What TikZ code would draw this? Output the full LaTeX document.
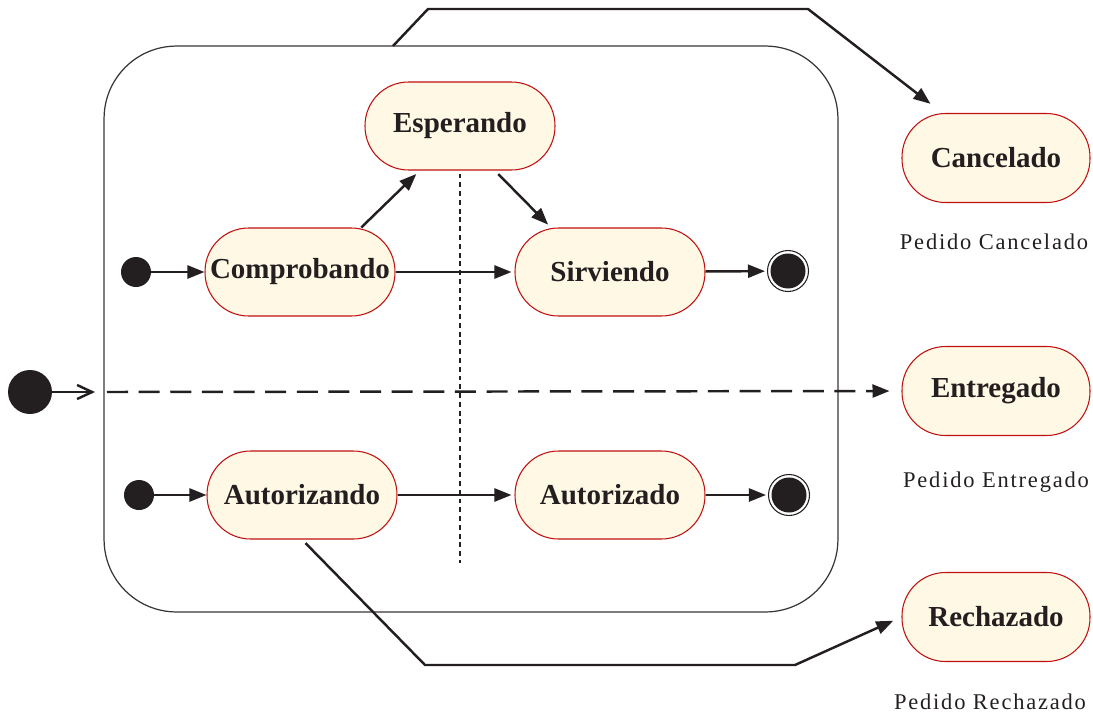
\documentclass[tikz,border=0pt]{standalone}
\usepackage{fontspec}
\setmainfont{Liberation Serif}
\newfontfamily\notefont[LetterSpace=8]{Liberation Serif}
\usepackage{xcolor}
\usepackage{tikz}
\usetikzlibrary{positioning,arrows.meta}
\definecolor{inkcolor}{RGB}{35,31,32}
\definecolor{statefill}{RGB}{254,248,228}
\definecolor{statedraw}{RGB}{192,16,16}
\tikzset{
    state/.style={rectangle, rounded corners=0.87cm, draw=statedraw, line width=0.6pt, fill=statefill, minimum width=3.8cm, minimum height=1.76cm, inner sep=0pt, text=inkcolor, font=\fontsize{16.5}{19}\selectfont\bfseries},
    end state/.style={state, minimum width=3.76cm, minimum height=1.78cm},
    composite/.style={rectangle, rounded corners=1.45cm, draw=inkcolor!90, line width=0.7pt, minimum width=14.68cm, minimum height=11.32cm, inner sep=0pt},
    initial dot/.style={circle, fill=inkcolor, minimum size=0.6cm, inner sep=0pt},
    big initial dot/.style={circle, fill=inkcolor, minimum size=0.88cm, inner sep=0pt},
    final dot/.style={circle, draw=inkcolor, line width=0.6pt, fill=white, minimum size=0.82cm, inner sep=0pt, path picture={\fill[inkcolor] (path picture bounding box.center) circle (0.35cm);}},
    transition/.style={-{Triangle[length=0.34cm, width=0.26cm]}, line width=1.4pt, draw=inkcolor},
    entry/.style={-{Straight Barb[length=0.3cm, width=0.28cm]}, line width=1.4pt, draw=inkcolor},
    fork line/.style={dash pattern=on 12pt off 6pt},
    region line/.style={line width=1.4pt, draw=inkcolor, dash pattern=on 2.8pt off 2.2pt},
    note/.style={anchor=base, text=inkcolor, font=\notefont\fontsize{12.8}{15}\selectfont}
}

\begin{document}
\begin{tikzpicture}[x=0.02cm, y=-0.02cm]
    \useasboundingbox (0,0) rectangle (1093,714);

    % Composite state
    \node[composite] (pedido) at (471,329) {};

    % Inner states
    \node[state] (esp) at (460,126) {Esperando};
    \node[state] (comp) at (300,272) {Comprobando};
    \node[state] (sirv) at (610,272) {Sirviendo};
    \node[state] (autz) at (302,495) {Autorizando};
    \node[state] (autd) at (610,495) {Autorizado};

    % Outer states and notes
    \node[end state] (canc) at (996,158) {Cancelado};
    \node[end state] (entr) at (996,391) {Entregado};
    \node[end state] (rech) at (996,617) {Rechazado};
    \node[note] (cancNote) at (994,249) {Pedido Cancelado};
    \node[note] (entrNote) at (996,487) {Pedido Entregado};
    \node[note] (rechNote) at (990,709) {Pedido Rechazado};

    % Initial and final pseudostates
    \node[big initial dot] (init) at (30,392) {};
    \node[initial dot] (initA) at (136,272) {};
    \node[initial dot] (initB) at (139,495) {};
    \node[final dot] (finA) at (788,271) {};
    \node[final dot] (finB) at (789,495) {};

    % Upper region
    \draw[transition] (initA) -- (comp);
    \draw[transition, shorten >=0.06cm] (comp) -- (sirv);
    \draw[transition, shorten >=0.1cm] (comp.36) -- (esp.228);
    \draw[transition, shorten <=0.1cm, shorten >=0.08cm] (esp.308) -- (sirv.143);
    \draw[transition, shorten >=0.04cm] (sirv) -- (finA);

    % Lower region
    \draw[transition] (initB) -- (autz);
    \draw[transition, shorten >=0.06cm] (autz) -- (autd);
    \draw[transition, shorten >=0.04cm] (autd) -- (finB);

    % Region separator
    \coordinate (sepEnd) at (460,563);
    \draw[region line, shorten <=0.06cm] (esp.south) -- (sepEnd);

    % Entry and exits of the composite state
    \coordinate (forkIn) at (104,392);
    \coordinate (cancOut) at (393,46);
    \draw[entry, shorten >=0.18cm] (init) -- (forkIn);
    \draw[transition, fork line, shorten <=0.06cm, shorten >=0.24cm] (forkIn) -- (entr.west);
    \draw[transition, shorten >=0.3cm] (cancOut) -- (428,9) -- (808,9) -- (canc.140);
    \draw[transition, shorten <=0.1cm, shorten >=0.18cm] (autz.south) -- (425,665) -- (795,665) -- (rech.west);
\end{tikzpicture}
\end{document}
